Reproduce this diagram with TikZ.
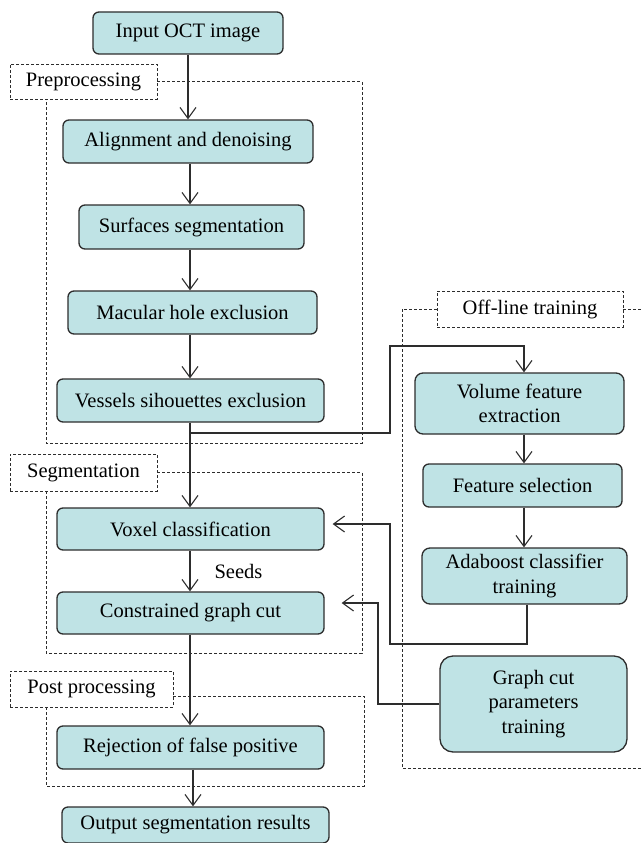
\documentclass[tikz,border=0pt]{standalone}
\usepackage{fontspec}
\setmainfont{Liberation Serif}
\usetikzlibrary{arrows.meta,positioning,calc}
\definecolor{boxfill}{RGB}{191,227,229}
\definecolor{boxline}{RGB}{45,45,45}
\tikzset{
  process/.style={
    draw=boxline,
    line width=1.3pt,
    fill=boxfill,
    rounded corners=6pt,
    align=center,
    inner sep=2pt,
    minimum height=43pt,
    font=\fontsize{20.5}{24.5}\selectfont
  },
  stagelabel/.style={draw=boxline, line width=0.9pt, dash pattern=on 3pt off 2pt,
    fill=white, minimum height=36pt, inner sep=2pt, font=\fontsize{20.5}{24.5}\selectfont},
  stageline/.style={draw=boxline, line width=0.9pt, dash pattern=on 3pt off 2pt},
  flow/.style={-{Straight Barb[length=11pt,width=16pt]}, line width=1.1pt, draw=boxline},
  tag/.style={font=\fontsize{20.5}{24.5}\selectfont, inner sep=2pt}
}

\begin{document}
\begin{tikzpicture}[x=1pt, y=-1pt]
  \useasboundingbox (0,0) rectangle (642,843);
  % main chain
  \node[process, minimum width=190pt, minimum height=42pt] (inp) at (188,33) {Input OCT image};
  \node[process, minimum width=250pt] (align) at (188,141.5) {Alignment and denoising};
  \node[process, minimum width=225pt, minimum height=44pt] (surf) at (191.5,227) {Surfaces segmentation};
  \node[process, minimum width=249pt] (mac) at (192.5,312.5) {Macular hole exclusion};
  \node[process, minimum width=267pt] (vess) at (190.5,400.5) {Vessels sihouettes exclusion};
  \node[process, minimum width=267pt, minimum height=42pt] (voxel) at (190.5,529) {Voxel classification};
  \node[process, minimum width=267pt, minimum height=42pt] (cgc) at (190.5,613) {Constrained graph cut};
  \node[process, minimum width=267pt] (rej) at (190.5,747.5) {Rejection of false positive};
  \node[process, minimum width=267pt, minimum height=36pt] (out) at (195.5,825) {Output segmentation results};
  % off-line training chain
  \node[process, minimum width=209pt, minimum height=61pt, rounded corners=8pt] (vol) at (519.5,403.5) {Volume feature\\extraction};
  \node[process, minimum width=199pt] (fsel) at (522.5,485.5) {Feature selection};
  \node[process, minimum width=205pt, minimum height=56pt, rounded corners=8pt] (ada) at (524.5,576) {Adaboost classifier\\training};
  \node[process, minimum width=187pt, minimum height=96pt, rounded corners=13pt] (gcp) at (533.5,704) {Graph cut\\parameters\\training};

  % stage frames
  \node[stagelabel, minimum width=147pt, minimum height=35pt] (prelbl) at (83.5,81.5) {Preprocessing};
  \node[stagelabel, minimum width=147pt, minimum height=37pt] (seglbl) at (83.5,472.5) {Segmentation};
  \node[stagelabel, minimum width=163pt] (postlbl) at (91.5,689) {Post processing};
  \node[stagelabel, minimum width=186pt] (offlbl) at (530,309) {Off-line training};
  \draw[stageline] (prelbl.east) -| (362,443) -| (46,99);
  \draw[stageline] (seglbl.east) -| (362,653) -| (46,491);
  \draw[stageline] ([yshift=-7pt]postlbl.east) -| (364,786) -| (46,707);
  \draw[stageline] (offlbl.west) -| (402,768) -- (642,768);
  \draw[stageline] (offlbl.east) -- (642,309);

  % connectors
  \draw[flow] (inp) -- (align);
  \draw[flow] (align.south -| 190,0) -- (surf.north -| 190,0);
  \draw[flow] (surf.south -| 190,0) -- (mac.north -| 190,0);
  \draw[flow] (mac.south -| 190,0) -- (vess.north -| 190,0);
  \draw[flow] (vess.south -| 190,0) -- (voxel.north -| 190,0);
  \coordinate (split) at (190,433);
  \coordinate (turn1) at (390,346);
  \draw[flow] (split) -| (turn1) -| (vol.north -| 524,0);
  \draw[flow] (vol.south -| 524,0) -- (fsel.north -| 524,0);
  \draw[flow] (fsel.south -| 524,0) -- (ada.north -| 524,0);
  \draw[flow] (voxel.south -| 190,0) -- node[tag, right=22pt] {Seeds} (cgc.north -| 190,0);
  \draw[flow] (cgc.south -| 190,0) -- (rej.north -| 190,0);
  \draw[flow] (rej.south -| 193,0) -- (out.north -| 193,0);
  \coordinate (ret1) at (390,644);
  \draw[flow] (ada.south -| 527,0) |- (ret1) |- ([xshift=8pt,yshift=5pt]voxel.east);
  \coordinate (ret2) at (378,704);
  \draw[flow] (gcp.west) -- (ret2) |- ([xshift=17pt,yshift=10pt]cgc.east);
\end{tikzpicture}
\end{document}
